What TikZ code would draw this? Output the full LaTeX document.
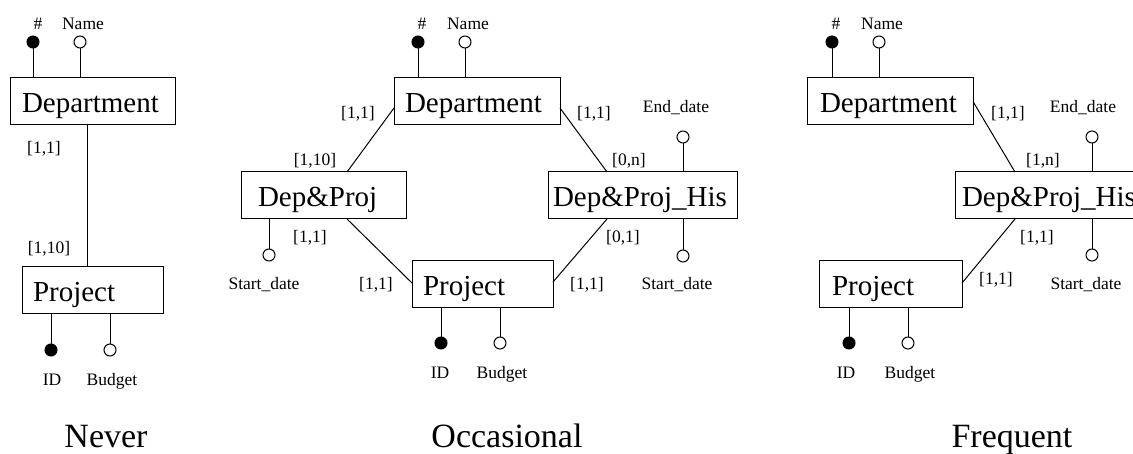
\documentclass[tikz,border=0pt]{standalone}
\usepackage{fontspec}
\setmainfont{Liberation Serif}
\usepackage{tikz}
\newcommand\entfont{\fontsize{29}{32}\selectfont}
\newcommand\lblfont{\fontsize{17.5}{20}\selectfont}
\newcommand\captfont{\fontsize{34}{38}\selectfont}

\begin{document}
\begin{tikzpicture}[x=1pt, y=-1pt, line width=1pt,
    entity/.style={draw, anchor=north west, align=left, font=\entfont,
      text height=23pt, text depth=0pt, minimum height=47pt,
      inner ysep=0pt, outer sep=0pt},
    keyattr/.style={circle, draw, fill=black, inner sep=0pt, minimum size=12pt, outer sep=0pt},
    attr/.style={circle, draw, fill=white, inner sep=0pt, minimum size=12pt, outer sep=0pt},
    lbl/.style={font=\lblfont, anchor=base, inner sep=0pt},
    capt/.style={font=\captfont, anchor=base, inner sep=0pt}]
    \useasboundingbox (0,0) rectangle (1133,454);

    % never
    \node[entity, text width=141pt, inner xsep=12pt] (dep1) at (10,78) {Department};
    \node[entity, text width=119pt, inner xsep=11pt] (pr1) at (22,267) {Project};
    \node[keyattr] (hash1) at (33,42) {};
    \node[attr] (name1) at (80,42) {};
    \node[keyattr] (id1) at (51,350) {};
    \node[attr] (bud1) at (110,350) {};
    \node[lbl] (lhash1) at (38,30) {\#};
    \node[lbl] (lname1) at (83,30) {Name};
    \node[lbl] (lid1) at (52,385) {ID};
    \node[lbl] (lbud1) at (112,385) {Budget};
    \node[lbl] (c11) at (44,154) {[1,1]};
    \node[lbl] (c12) at (49,254) {[1,10]};
    \node[capt] (never) at (106,447) {Never};

    \draw (hash1) -- (hash1 |- dep1.north);
    \draw (name1) -- (name1 |- dep1.north);
    \draw (pr1.south -| id1) -- (id1);
    \draw (pr1.south -| bud1) -- (bud1);
    \draw ([xshift=77pt]dep1.south west) -- ([xshift=65pt]pr1.north west);

    % occasional
    \node[entity, text width=144pt, inner xsep=11pt] (dep2) at (394,78) {Department};
    \node[entity, text width=131pt, inner xsep=17pt] (dp2) at (241,172) {Dep\&Proj};
    \node[entity, text width=179pt, inner xsep=5pt] (his2) at (548,172) {Dep\&Proj\_His};
    \node[entity, text width=119pt, inner xsep=11pt] (pr2) at (412,261) {Project};
    \node[keyattr] (hash2) at (418,42) {};
    \node[attr] (name2) at (465,42) {};
    \node[attr] (sd2) at (269,255) {};
    \node[attr] (ed2) at (683,137) {};
    \node[attr] (hsd2) at (683,256) {};
    \node[keyattr] (id2) at (441,343) {};
    \node[attr] (bud2) at (500,343) {};
    \node[lbl] (lhash2) at (422,30) {\#};
    \node[lbl] (lname2) at (468,30) {Name};
    \node[lbl] (lsd2) at (264,290) {Start\_date};
    \node[lbl] (led2) at (676,113) {End\_date};
    \node[lbl] (lhsd2) at (677,290) {Start\_date};
    \node[lbl] (lid2) at (440,378) {ID};
    \node[lbl] (lbud2) at (502,378) {Budget};
    \node[lbl] (c21) at (358,119) {[1,1]};
    \node[lbl] (c22) at (315,166) {[1,10]};
    \node[lbl] (c23) at (310,243) {[1,1]};
    \node[lbl] (c24) at (376,290) {[1,1]};
    \node[lbl] (c25) at (594,119) {[1,1]};
    \node[lbl] (c26) at (629,166) {[0,n]};
    \node[lbl] (c27) at (623,243) {[0,1]};
    \node[lbl] (c28) at (587,290) {[1,1]};
    \node[capt] (occ) at (507,447) {Occasional};

    \draw (hash2) -- (hash2 |- dep2.north);
    \draw (name2) -- (name2 |- dep2.north);
    \draw (dp2.south -| sd2) -- (sd2);
    \draw (ed2) -- (ed2 |- his2.north);
    \draw (his2.south -| hsd2) -- (hsd2);
    \draw (pr2.south -| id2) -- (id2);
    \draw (pr2.south -| bud2) -- (bud2);
    \draw ([yshift=-6.5pt]dep2.west) -- ([xshift=106pt]dp2.north west);
    \draw ([xshift=106pt]dp2.south west) -- ([yshift=1.5pt]pr2.west);
    \draw ([yshift=-6.5pt]dep2.east) -- ([xshift=59pt]his2.north west);
    \draw ([xshift=59pt]his2.south west) -- ([yshift=2.5pt]pr2.east);

    % frequent
    \node[entity, text width=140pt, inner xsep=13pt] (dep3) at (807,78) {Department};
    \node[entity, text width=177pt, inner xsep=7pt] (his3) at (955,172) {Dep\&Proj\_His};
    \node[entity, text width=117pt, inner xsep=13pt] (pr3) at (819,261) {Project};
    \node[keyattr] (hash3) at (832,42) {};
    \node[attr] (name3) at (879,42) {};
    \node[attr] (ed3) at (1092,137) {};
    \node[attr] (hsd3) at (1092,255) {};
    \node[keyattr] (id3) at (849,343) {};
    \node[attr] (bud3) at (908,343) {};
    \node[lbl] (lhash3) at (836,30) {\#};
    \node[lbl] (lname3) at (882,30) {Name};
    \node[lbl] (led3) at (1083,113) {End\_date};
    \node[lbl] (lhsd3) at (1086,290) {Start\_date};
    \node[lbl] (lid3) at (846,378) {ID};
    \node[lbl] (lbud3) at (910,378) {Budget};
    \node[lbl] (c31) at (1008,119) {[1,1]};
    \node[lbl] (c32) at (1043,166) {[1,n]};
    \node[lbl] (c33) at (1037,243) {[1,1]};
    \node[lbl] (c34) at (996,285) {[1,1]};
    \node[capt] (freq) at (1012,447) {Frequent};

    \draw (hash3) -- (hash3 |- dep3.north);
    \draw (name3) -- (name3 |- dep3.north);
    \draw (ed3) -- (ed3 |- his3.north);
    \draw (his3.south -| hsd3) -- (hsd3);
    \draw (pr3.south -| id3) -- (id3);
    \draw (pr3.south -| bud3) -- (bud3);
    \draw (dep3.east) -- ([xshift=60pt]his3.north west);
    \draw ([xshift=60pt]his3.south west) -- ([yshift=1.5pt]pr3.east);
\end{tikzpicture}
\end{document}
